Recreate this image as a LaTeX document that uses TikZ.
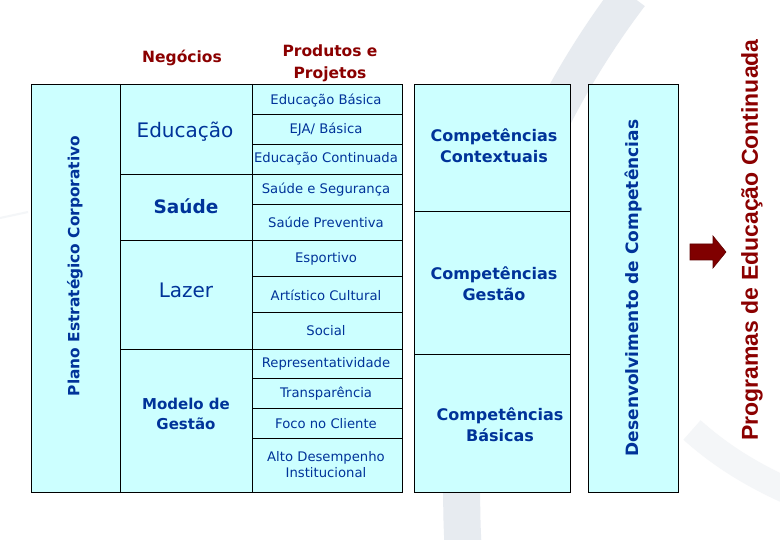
\documentclass[tikz,border=0pt]{standalone}
\usepackage{fontspec}
\setmainfont{DejaVu Sans}
\newfontfamily\arialfont{Liberation Sans}
\definecolor{cellfill}{RGB}{204,255,255}
\definecolor{txtblue}{RGB}{0,51,153}
\definecolor{hdrred}{RGB}{139,0,0}
\definecolor{wm}{RGB}{231,235,240}
\definecolor{wmlight}{RGB}{244,246,248}
\definecolor{arrowred}{RGB}{128,0,0}
\begin{document}
\begin{tikzpicture}[x=1pt,y=-1pt,
  cell/.style={draw=black,line width=0.9pt,fill=cellfill},
  rule/.style={draw=black,line width=0.9pt},
  prod/.style={inner sep=0pt,text=txtblue,font=\fontsize{13.2}{16}\selectfont,align=center},
  negr/.style={inner sep=0pt,text=txtblue,font=\fontsize{20}{24}\selectfont},
  negbold/.style={inner sep=0pt,text=txtblue,font=\bfseries\fontsize{18.5}{22}\selectfont},
  negsmall/.style={inner sep=0pt,text=txtblue,font=\bfseries\fontsize{15}{20}\selectfont,align=center},
  hdr/.style={inner sep=0pt,text=hdrred,font=\bfseries\fontsize{15.5}{22}\selectfont,align=center},
  comp/.style={inner sep=0pt,text=txtblue,font=\bfseries\fontsize{16}{21}\selectfont,align=center},
  vlabel/.style={inner sep=0pt,rotate=90,font=\bfseries\fontsize{#1}{#1}\selectfont}
]
\useasboundingbox (0,0) rectangle (780,540);
\fill[white] (0,0) rectangle (780,540);
% watermark
\draw[wm,line width=37pt] (630,-5) .. controls (511,152) and (452,346) .. (463,545);
\draw[wmlight,line width=26pt] (692,430) .. controls (720,455) and (750,474) .. (790,492);
\draw[wmlight,line width=2pt] (0,218) -- (28,212);

% left table
\path[cell] (31,84) rectangle (402,492);
\draw[rule] (120,84) -- (120,492);
\draw[rule] (252,84) -- (252,492);
\foreach \yy in {174,240,349} \draw[rule] (120,\yy) -- (402,\yy);
\foreach \yy in {114,144,204,276,312,378,408,438} \draw[rule] (252,\yy) -- (402,\yy);

% competencias
\path[cell] (414,84) rectangle (570,492);
\draw[rule] (414,211) -- (570,211);
\draw[rule] (414,354) -- (570,354);

% desenvolvimento
\path[cell] (588,84) rectangle (678,492);

% headers
\node[hdr] (neg) at (182,58) {Negócios};
\node[hdr] (prodhdr) at (330,63) {Produtos e\\Projetos};

% vertical labels
\node[vlabel=15.4,text=txtblue] (plano) at (75,266) {Plano Estratégico Corporativo};
\node[vlabel=17,text=txtblue] (desenv) at (633,288) {Desenvolvimento de Competências};
\node[vlabel=23,text=hdrred,font=\arialfont\bfseries\fontsize{23}{23}\selectfont] (prog) at (752,240) {Programas de Educação Continuada};

% negocios column
\node[negr] (educ) at (185,132) {Educação};
\node[negbold] (saude) at (186,206) {Saúde};
\node[negr] (lazer) at (186,290) {Lazer};
\node[negsmall] (modelo) at (186,414) {Modelo de\\Gestão};

% products column
\node[prod] (p1) at (326,100) {Educação Básica};
\node[prod] (p2) at (326,130) {EJA/ Básica};
\node[prod] (p3) at (326,159) {Educação Continuada};
\node[prod] (p4) at (326,190) {Saúde e Segurança};
\node[prod] (p5) at (326,222) {Saúde Preventiva};
\node[prod] (p6) at (326,259) {Esportivo};
\node[prod] (p7) at (326,295) {Artístico Cultural};
\node[prod] (p8) at (326,331) {Social};
\node[prod] (p9) at (326,364) {Representatividade};
\node[prod] (p10) at (326,394) {Transparência};
\node[prod] (p11) at (326,424) {Foco no Cliente};
\node[prod] (p12) at (326,465) {Alto Desempenho\\Institucional};

% competencias
\node[comp] (c1) at (494,146) {Competências\\Contextuais};
\node[comp] (c2) at (494,284) {Competências\\Gestão};
\node[comp] (c3) at (500,425) {Competências\\Básicas};

% arrow
\filldraw[fill=arrowred,draw={rgb,255:red,95;green,0;blue,0},line width=0.6pt]
  (690,244) -- (713,244) -- (713,236) -- (726,252) -- (713,268) -- (713,260) -- (690,260) -- cycle;
\end{tikzpicture}
\end{document}
